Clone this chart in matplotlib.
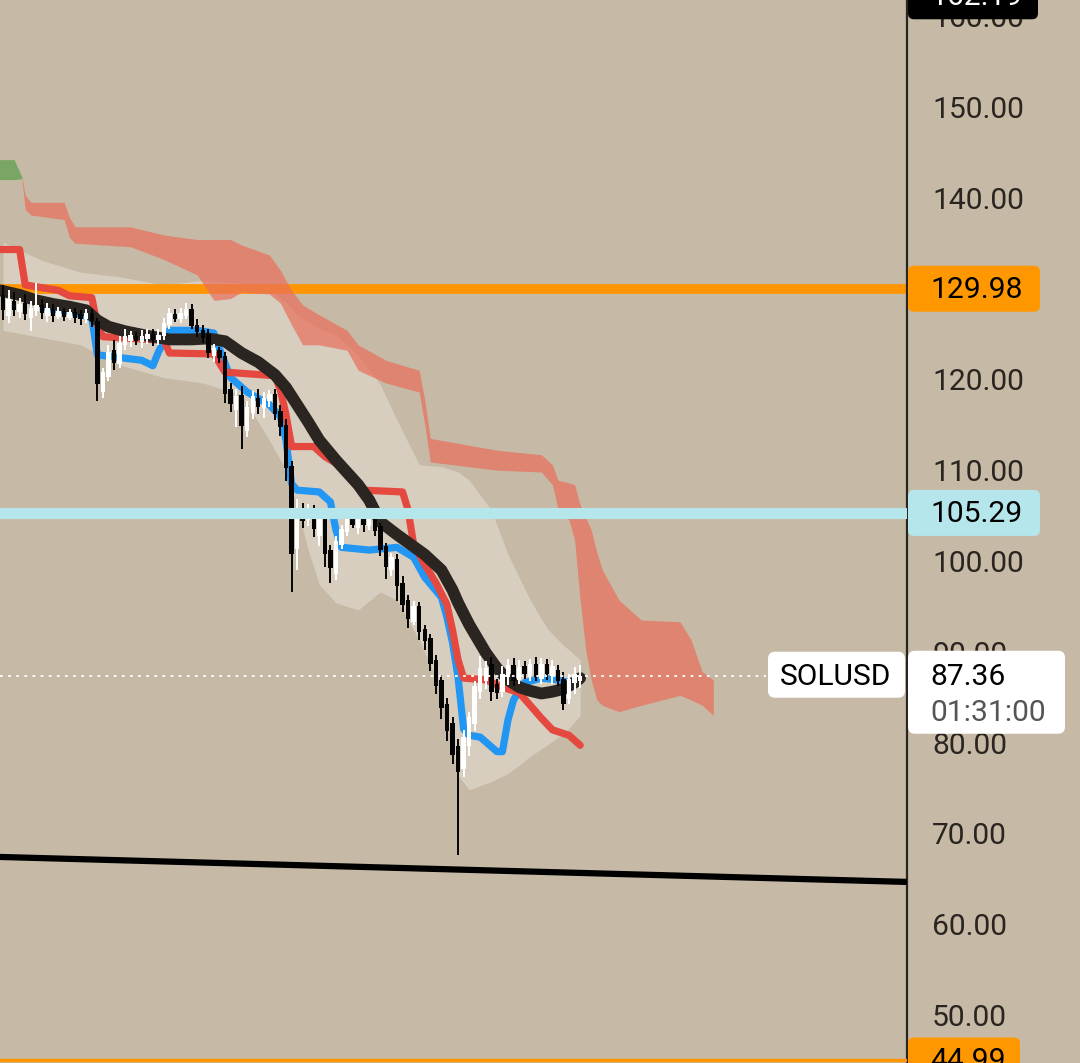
import matplotlib
matplotlib.use("Agg")
import matplotlib.pyplot as plt
from matplotlib.patches import FancyBboxPatch
import numpy as np

# ---- candles (SOLUSD) ----
opens = [129.3, 127.0, 128.6, 127.4, 128.4, 126.8, 127.5, 128.2, 127.0, 127.8,
         126.9, 127.5, 126.8, 127.4, 127.2, 126.6, 127.3, 126.4, 118.6, 120.3,
         123.2, 121.7, 123.8, 124.2, 124.8, 124.1, 124.5, 125.0, 124.3, 124.8,
         126.0, 127.2, 126.6, 127.0, 127.8, 126.0, 125.4, 125.0, 122.6, 123.2,
         122.6, 118.9, 116.6, 118.3, 114.3, 116.3, 118.0, 116.8, 117.6, 118.4,
         116.5, 115.0, 110.5, 101.3, 105.6, 104.5, 105.5, 102.8, 105.0, 101.2,
         98.6, 101.8, 103.2, 104.8, 103.6, 104.9, 103.8, 105.0, 103.8, 101.6,
         99.0, 100.2, 97.6, 95.7, 93.3, 95.0, 92.5, 91.5, 89.1, 86.9,
         84.3, 82.2, 79.6, 77.1, 79.6, 82.0, 85.6, 86.8, 88.6, 86.4,
         85.6, 87.2, 88.5, 86.9, 88.4, 87.4, 88.7, 87.0, 88.7, 87.3,
         88.0, 87.0, 84.8, 86.6, 86.8]
highs = [130.4, 129.8, 129.6, 129.0, 129.4, 128.6, 130.6, 128.9, 128.4, 128.3,
         128.0, 127.9, 127.8, 127.9, 127.6, 127.8, 127.7, 126.8, 121.3, 123.8,
         124.3, 124.8, 125.5, 125.3, 125.2, 125.4, 125.6, 125.5, 125.5, 126.8,
         127.9, 127.8, 127.9, 128.4, 128.3, 126.6, 126.0, 125.6, 123.9, 123.6,
         123.0, 119.6, 118.9, 119.3, 117.6, 118.7, 118.9, 118.6, 118.8, 118.9,
         117.2, 115.6, 111.0, 106.8, 106.4, 106.3, 106.2, 105.2, 105.5, 101.8,
         102.7, 104.0, 105.3, 105.6, 105.2, 105.5, 105.6, 105.6, 104.2, 102.0,
         100.9, 100.8, 98.3, 96.2, 95.6, 95.5, 93.0, 92.0, 89.6, 87.4,
         84.9, 82.8, 80.4, 81.4, 83.4, 86.8, 89.5, 89.0, 89.4, 87.0,
         88.4, 89.2, 89.3, 89.1, 89.0, 89.2, 89.4, 89.3, 89.2, 89.1,
         88.5, 87.8, 87.6, 88.3, 88.5]
lows = [126.5, 126.2, 127.0, 126.8, 126.5, 125.3, 127.0, 126.6, 126.3, 126.3,
        126.6, 126.4, 126.5, 126.2, 126.0, 126.2, 125.8, 117.6, 117.9, 119.8,
        121.0, 121.3, 123.2, 123.6, 123.8, 123.5, 123.9, 123.7, 123.8, 124.3,
        125.5, 126.3, 126.2, 126.6, 125.6, 124.7, 124.0, 122.4, 121.9, 121.8,
        117.4, 116.4, 114.8, 112.3, 113.6, 115.6, 116.2, 115.8, 117.0, 115.5,
        113.8, 108.8, 96.6, 99.0, 103.6, 103.8, 102.6, 101.6, 99.3, 97.6,
        97.9, 101.3, 102.8, 103.6, 103.0, 103.2, 103.4, 102.8, 100.5, 98.0,
        98.3, 95.6, 94.4, 92.6, 92.9, 91.3, 90.2, 87.9, 85.4, 82.6,
        80.2, 77.6, 67.6, 76.2, 78.5, 81.3, 84.8, 85.9, 84.6, 84.8,
        85.0, 86.3, 86.2, 86.4, 87.0, 86.8, 86.8, 86.4, 86.9, 86.5,
        86.2, 83.6, 84.2, 85.4, 86.0]
closes = [127.6, 128.8, 127.6, 128.3, 127.2, 127.9, 128.2, 127.3, 127.9, 127.0,
          127.5, 126.9, 127.4, 126.8, 126.6, 127.3, 126.4, 119.5, 120.8, 123.0,
          121.8, 124.0, 124.8, 124.9, 124.2, 124.8, 125.0, 124.3, 124.9, 126.2,
          127.3, 126.7, 127.3, 127.8, 125.9, 125.2, 124.6, 122.9, 123.4, 122.3,
          118.4, 117.3, 118.2, 114.9, 117.0, 118.2, 117.0, 118.0, 118.4, 116.2,
          114.8, 110.2, 100.8, 105.8, 104.4, 105.6, 103.5, 104.6, 100.8, 99.2,
          102.2, 103.5, 104.7, 104.0, 104.6, 104.0, 105.0, 103.3, 101.2, 99.3,
          100.4, 97.2, 95.2, 93.6, 95.0, 92.2, 91.2, 88.6, 86.2, 83.8,
          81.3, 78.6, 76.8, 80.6, 82.8, 86.2, 88.2, 88.2, 85.6, 85.5,
          87.6, 88.5, 86.8, 88.3, 87.6, 88.6, 87.2, 88.6, 87.5, 88.4,
          86.8, 84.2, 87.0, 87.6, 87.36]

# ---- indicator lines (bar index, price) ----
ma_x = [-0.5, 3, 6, 9, 12, 15, 17, 19, 22, 26, 30, 34, 37, 40, 43, 46, 49, 51, 53, 55,
        57, 60, 64, 66, 68, 71, 76, 79, 81, 82, 84, 87, 89, 91, 93, 95, 97, 99, 101, 103, 104]
ma_y = [129.8, 129.3, 128.7, 128.3, 128.0, 127.6, 126.5, 125.8, 125.3, 124.8, 124.4, 124.4,
        124.5, 124.2, 122.9, 121.9, 120.5, 119.1, 117.2, 115.3, 113.3, 111.1, 108.4, 106.7,
        104.3, 102.9, 100.7, 99.0, 96.8, 95.4, 93.0, 89.9, 88.2, 86.9, 86.1, 85.7, 85.4,
        85.6, 85.9, 86.6, 87.1]

tenkan_x = [8, 12, 16, 17, 25, 27, 28, 30, 35, 38, 39, 41, 44, 48, 50, 51, 52, 53, 57, 59,
            60, 61, 66, 71, 74, 76, 79, 80, 81, 82, 83, 84, 86, 89, 90, 91, 92, 94, 97, 100,
            102, 104]
tenkan_y = [127.8, 127.5, 126.8, 122.7, 122.1, 121.5, 123.0, 125.4, 125.4, 125.1, 123.4,
            120.2, 118.6, 117.2, 115.9, 113.3, 108.5, 107.8, 107.6, 106.5, 103.4, 101.5,
            101.2, 101.5, 100.4, 98.2, 96.0, 93.8, 91.0, 87.2, 81.5, 80.8, 80.6, 79.0, 79.0,
            82.5, 84.7, 86.6, 87.1, 86.9, 86.6, 87.3]

kijun_x = [-0.5, 3, 4, 10, 12, 16, 17, 18, 29, 30, 38, 40, 49, 50, 51, 52, 56, 58, 61, 63,
           65, 72, 73, 74, 76, 78, 80, 81, 82, 83, 87, 90, 93, 95, 97, 99, 101, 102, 104]
kijun_y = [134.3, 134.3, 130.4, 129.8, 129.2, 129.0, 126.0, 124.7, 124.3, 122.9, 122.8,
           120.8, 120.4, 118.8, 116.1, 112.6, 112.6, 111.5, 110.4, 108.9, 107.8, 107.6,
           105.6, 101.8, 99.6, 97.6, 95.2, 92.4, 89.1, 87.1, 86.9, 86.1, 85.5, 84.1, 82.7,
           81.4, 81.0, 80.8, 79.7]

# ---- ichimoku cloud ----
green_x = [-1, 2, 3.4]
green_top = [144.2, 144.2, 142.3]
green_bot = [142.0, 142.0, 142.1]

cloud_x = [3.4, 4, 5, 11, 12, 13, 23, 29, 35, 38, 41, 43, 48, 50, 52, 54, 57, 62, 64, 69,
           75, 76, 77, 89, 97, 99, 100, 102, 103, 104, 105, 106, 107, 108, 111, 115, 122,
           124, 126, 128]
cloud_top = [142.3, 140.3, 139.5, 139.5, 137.8, 136.8, 136.8, 135.9, 135.4, 135.4, 135.4,
             134.8, 133.7, 132.0, 129.8, 128.2, 127.1, 125.4, 123.8, 122.1, 121.0, 117.7,
             113.5, 112.2, 111.7, 110.6, 108.9, 108.6, 108.4, 106.2, 104.8, 103.4, 101.0,
             99.0, 95.7, 93.5, 93.3, 91.3, 87.8, 86.9]
cloud_bot = [142.1, 138.7, 138.1, 137.6, 135.6, 135.0, 134.6, 133.2, 131.5, 128.7, 128.9,
             129.6, 129.4, 128.4, 126.0, 123.8, 123.8, 123.2, 121.0, 119.6, 118.6, 115.0,
             110.9, 110.0, 109.8, 108.4, 105.8, 104.5, 102.3, 95.7, 90.2, 86.9, 84.7, 84.1,
             83.4, 84.1, 85.2, 84.7, 84.1, 83.0]

# ---- pale band around price ----
band_x = [0, 7, 14, 21, 29, 36, 43, 48, 51, 53, 55, 57, 60, 64, 68, 71, 75, 79, 82, 84,
          88, 91, 93, 95, 98, 101, 102, 104]
band_top = [135.1, 133.1, 131.8, 131.3, 130.4, 130.9, 130.6, 129.8, 128.5, 127.1, 126.3,
            125.6, 124.9, 122.7, 119.4, 115.5, 110.6, 110.4, 109.8, 108.9, 105.6, 100.7,
            98.2, 95.7, 92.6, 90.7, 90.2, 89.1]
band_bot = [125.4, 124.6, 123.8, 121.6, 120.2, 119.6, 118.3, 113.3, 110.0, 106.2, 101.2,
            97.4, 95.4, 94.6, 96.6, 95.7, 91.3, 85.8, 76.4, 74.8, 75.7, 76.6, 77.5, 78.5,
            79.7, 81.0, 81.6, 83.0]

# ---- horizontal levels / trend ----
orange_level = 129.98
blue_level = 105.29
low_orange_level = 44.99
top_tag_price = 162.19
trend_x = [-1, 163]
trend_y = [67.41, 64.65]
price_ticks = [50, 60, 70, 80, 90, 100, 110, 120, 130, 140, 150, 160]
symbol = "SOLUSD"
countdown = "01:31:00"

BG = "#C6BAA6"
INK = "#2A2520"
FONT = "Roboto"

fig = plt.figure(figsize=(10.8, 10.63), dpi=100)
fig.patch.set_facecolor(BG)
ax = fig.add_axes([0, 0, 907 / 1080, 1])
ax.set_facecolor(BG)
ax.set_xlim(-0.54, 162.9)
ax.set_ylim(44.71, 161.78)

# pale envelope
ax.fill_between(band_x, band_bot, band_top, color="white", alpha=0.3, lw=0, zorder=1)
# orange level sits under the cloud
ax.axhline(orange_level, color="#FF9500", lw=7, zorder=2)
# cloud
ax.fill_between(green_x, green_bot, green_top, color="#5FA050", alpha=0.75, lw=0, zorder=3)
ax.fill_between(cloud_x, cloud_bot, cloud_top, color="#E8705C", alpha=0.72, lw=0, zorder=3)

# indicator lines
ax.plot(tenkan_x, tenkan_y, color="#2196F3", lw=5.2, solid_capstyle="round",
        solid_joinstyle="round", zorder=4)
ax.plot(kijun_x, kijun_y, color="#E5483F", lw=5.2, solid_capstyle="round",
        solid_joinstyle="round", zorder=5)
ax.plot(ma_x, ma_y, color="#2A2520", lw=8.5, solid_capstyle="round",
        solid_joinstyle="round", zorder=6)

# candles
idx = np.arange(len(closes))
o = np.array(opens)
c = np.array(closes)
up = c >= o
cols = np.where(up, "#FFFFFF", "#050505")
ax.vlines(idx, lows, highs, colors=cols, lw=1.4, zorder=7)
body = np.maximum(np.abs(c - o), 0.3)
ax.bar(idx, body, bottom=np.minimum(o, c), width=0.8, color=cols, lw=0, zorder=7)

# light blue level and trendline on top
ax.axhline(blue_level, color="#B4E6EC", lw=8, zorder=8)
ax.axhline(low_orange_level, color="#FF9500", lw=2.5, zorder=8)
ax.plot(trend_x, trend_y, color="#000000", lw=4.5, zorder=8)

# price scale
for s in ["top", "left", "bottom"]:
    ax.spines[s].set_visible(False)
ax.spines["right"].set_color(INK)
ax.spines["right"].set_linewidth(1.6)
ax.set_xticks([])
ax.yaxis.tick_right()
ax.set_yticks(price_ticks)
ax.set_yticklabels([f"{v:.2f}" for v in price_ticks], fontsize=21.6,
                   color=INK, family=FONT)
ax.tick_params(axis="y", length=0, pad=18)

# overlay in pixel units for the price tags
W, H = 1080, 1063
ov = fig.add_axes([0, 0, 1, 1], zorder=10)
ov.set_xlim(0, W)
ov.set_ylim(H, 0)
ov.axis("off")
ov.patch.set_alpha(0)


def ypix(price):
    return fig.bbox.height - ax.transData.transform((0, price))[1]


def tag(price, text, fc, tc, x0=908, w=132, h=46):
    y = ypix(price)
    ov.add_patch(FancyBboxPatch((x0, y - h / 2), w, h,
                                boxstyle="round,pad=0,rounding_size=6",
                                fc=fc, ec="none", zorder=1))
    ov.text(x0 + 22, y + 1, text, color=tc, fontsize=21.6, family=FONT,
            va="center", ha="left", zorder=2)


tag(top_tag_price, f"{top_tag_price:.2f}", "#000000", "#FFFFFF", w=130)
tag(orange_level, f"{orange_level:.2f}", "#FF9800", "#000000")
tag(blue_level, f"{blue_level:.2f}", "#B4E6EC", "#000000")
tag(low_orange_level, f"{low_orange_level:.2f}", "#FF9800", "#000000", w=112)

# last price: dotted line, symbol tag and price/countdown tag
last = closes[-1]
yl = ypix(last)
ov.plot([0, 766], [yl, yl], color="white", lw=1.3, ls=(0, (1.5, 3)), zorder=1)
ov.add_patch(FancyBboxPatch((768, yl - 24), 137, 46,
                            boxstyle="round,pad=0,rounding_size=7",
                            fc="white", ec="none", zorder=1))
ov.text(780, yl + 1, symbol, color="#000000", fontsize=21.6, family=FONT,
        va="center", ha="left", zorder=2)
ov.add_patch(FancyBboxPatch((908, yl - 25), 157, 83,
                            boxstyle="round,pad=0,rounding_size=7",
                            fc="white", ec="none", zorder=1))
ov.text(930, yl + 1, f"{last:.2f}", color="#000000", fontsize=21.6, family=FONT,
        va="center", ha="left", zorder=2)
ov.text(930, yl + 37, countdown, color="#555555", fontsize=21.6, family=FONT,
        va="center", ha="left", zorder=2)

fig.savefig("out.png", dpi=100, facecolor=BG)
